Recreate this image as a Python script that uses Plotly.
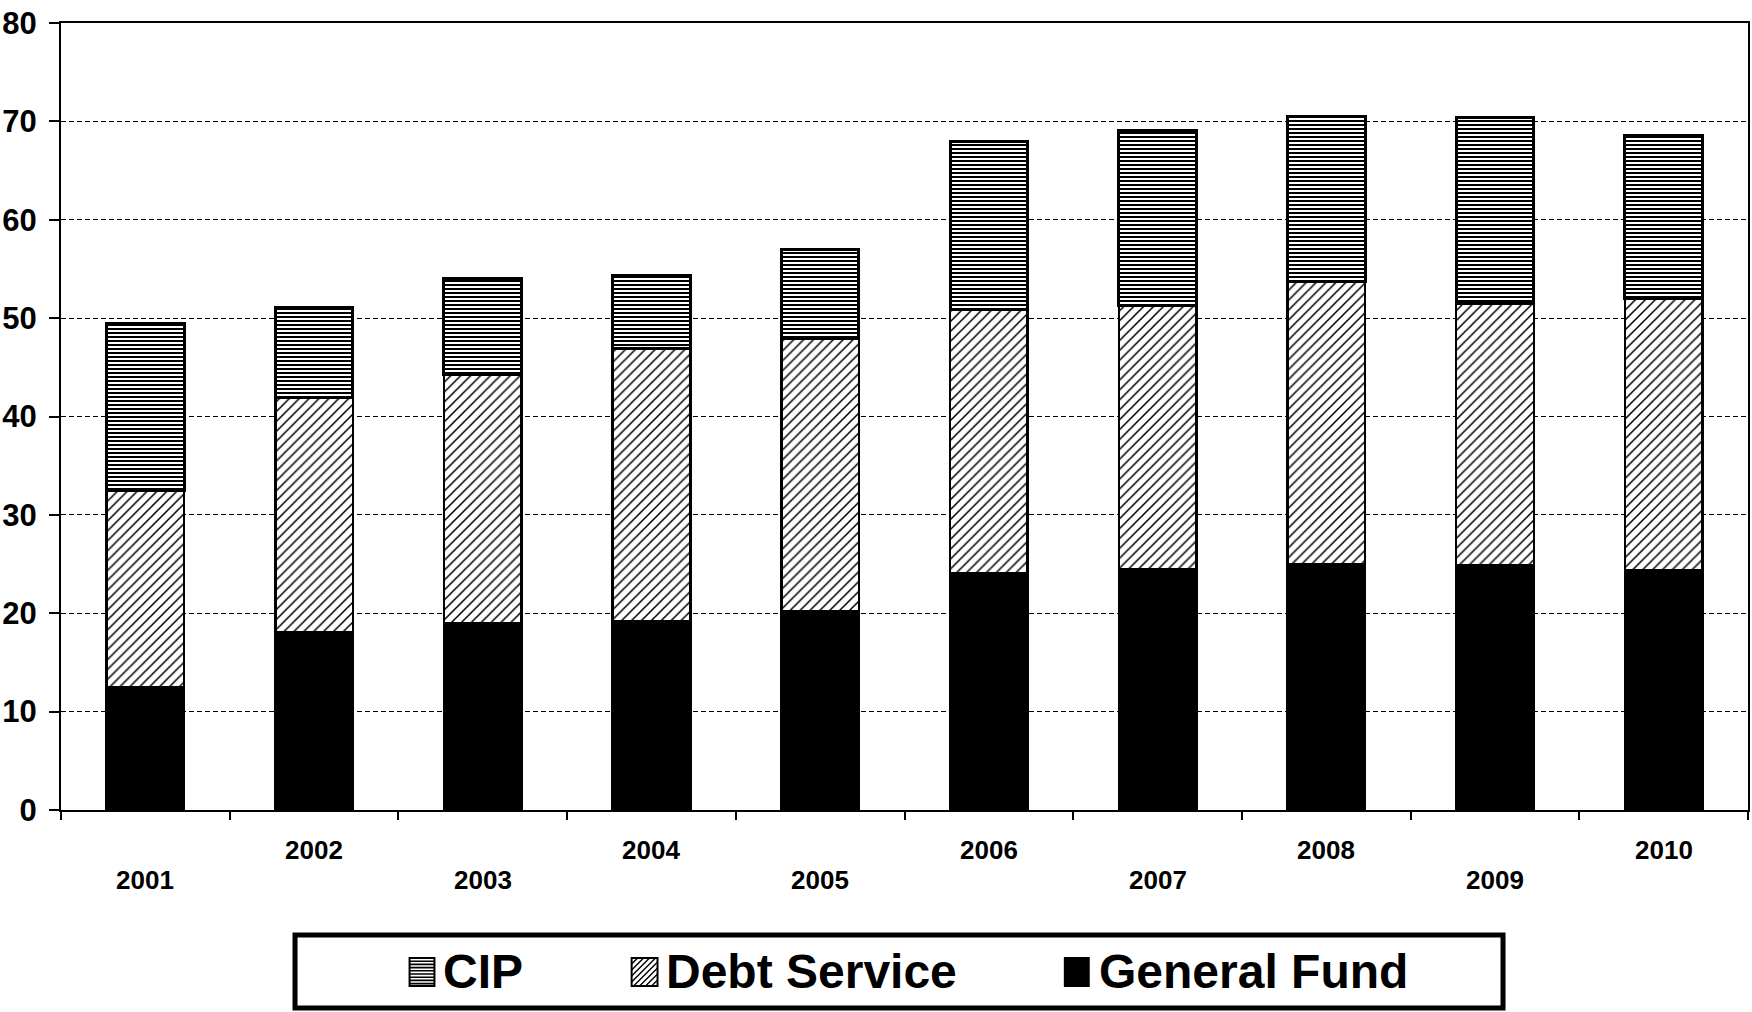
import plotly.graph_objects as go

# Funding by source, fiscal years 2001-2010
years = ["2001", "2002", "2003", "2004", "2005", "2006", "2007", "2008", "2009", "2010"]
general_fund = [12.5, 18.1, 19.0, 19.2, 20.2, 24.1, 24.5, 25.0, 24.9, 24.4]
debt_service = [20.0, 23.8, 25.3, 27.7, 27.7, 26.8, 26.8, 28.7, 26.6, 27.6]
cip = [17.0, 9.2, 9.7, 7.4, 9.1, 17.1, 17.8, 16.8, 18.9, 16.6]
y_ticks = [0, 10, 20, 30, 40, 50, 60, 70, 80]

FONT = "Arial, Liberation Sans, sans-serif"
W, H = 1752, 1012
ML, MR, MT, MB = 56, 2, 23, 202
PW, PH = W - ML - MR, H - MT - MB


def fx(px):
    return (px - ML) / PW


def fy(py):
    return (H - MB - py) / PH


fig = go.Figure()

fig.add_trace(go.Bar(
    x=years, y=general_fund, name="General Fund",
    marker=dict(color="black", line=dict(color="black", width=2.5)),
))
fig.add_trace(go.Bar(
    x=years, y=debt_service, name="Debt Service",
    marker=dict(color="white", line=dict(color="black", width=2.5),
                pattern=dict(shape="/", size=7, solidity=0.22,
                             fgcolor="black", bgcolor="white", fillmode="replace")),
))
fig.add_trace(go.Bar(
    x=years, y=cip, name="CIP",
    marker=dict(color="white", line=dict(color="black", width=3),
                pattern=dict(shape="-", size=4, solidity=0.5,
                             fgcolor="black", bgcolor="white", fillmode="replace")),
))

# Legend drawn by hand: framed box, patterned swatches and large labels
shapes = [dict(type="rect", xref="paper", yref="paper",
               x0=fx(291), x1=fx(1504), y0=fy(1008), y1=fy(935),
               line=dict(color="black", width=5), fillcolor="white", layer="above")]


def rect_path(x0, y0, x1, y1):
    return (f"M{fx(x0)},{fy(y0)} L{fx(x1)},{fy(y0)} L{fx(x1)},{fy(y1)} "
            f"L{fx(x0)},{fy(y1)} Z")


def hlines_path(x0, y0, x1, y1, step):
    parts = []
    y = y0 + step
    while y < y1 - 0.5:
        parts.append(f"M{fx(x0)},{fy(y)} L{fx(x1)},{fy(y)}")
        y += step
    return " ".join(parts)


def diag_path(x0, y0, x1, y1, step):
    parts = []
    c = x0 + y0 + step
    while c < x1 + y1 - 0.5:
        xa = max(x0, c - y1)
        xb = min(x1, c - y0)
        parts.append(f"M{fx(xa)},{fy(c - xa)} L{fx(xb)},{fy(c - xb)}")
        c += step
    return " ".join(parts)


sw_y0, sw_y1 = 958, 986
# CIP swatch
shapes.append(dict(type="path", xref="paper", yref="paper",
                   path=hlines_path(406, sw_y0, 431, sw_y1, 3.2),
                   line=dict(color="black", width=1.6), layer="above"))
shapes.append(dict(type="path", xref="paper", yref="paper",
                   path=rect_path(406, sw_y0, 431, sw_y1),
                   line=dict(color="black", width=2), layer="above"))
# Debt Service swatch
shapes.append(dict(type="path", xref="paper", yref="paper",
                   path=diag_path(629, sw_y0, 655, sw_y1, 6),
                   line=dict(color="black", width=1.4), layer="above"))
shapes.append(dict(type="path", xref="paper", yref="paper",
                   path=rect_path(629, sw_y0, 655, sw_y1),
                   fillcolor="rgba(0,0,0,0)", line=dict(color="black", width=2), layer="above"))
# General Fund swatch
shapes.append(dict(type="path", xref="paper", yref="paper",
                   path=rect_path(1064, sw_y0, 1088, sw_y1),
                   fillcolor="black", line=dict(color="black", width=2), layer="above"))

annotations = []
for label, px in [("CIP", 438), ("Debt Service", 661), ("General Fund", 1096)]:
    annotations.append(dict(
        text=label, xref="paper", yref="paper", x=fx(px), y=fy(971),
        xanchor="left", yanchor="middle", showarrow=False,
        font=dict(family=FONT, size=48, color="black", weight="bold"),
    ))

# Category labels staggered over two rows, placed on the category axis
for i, yr in enumerate(years):
    row_y = 880 if i % 2 == 0 else 850
    annotations.append(dict(
        text=yr, xref="x", yref="paper", x=i, y=fy(row_y),
        xanchor="center", yanchor="middle", showarrow=False,
        font=dict(family=FONT, size=26, color="black", weight="bold"),
    ))

fig.update_layout(
    width=W, height=H,
    margin=dict(l=ML, r=MR, t=MT, b=MB),
    paper_bgcolor="white", plot_bgcolor="white",
    barmode="stack", bargap=0.54,
    showlegend=False,
    shapes=shapes, annotations=annotations,
    font=dict(family=FONT, color="black"),
)

fig.update_xaxes(
    type="category", categoryorder="array", categoryarray=years,
    showticklabels=False,
    tickson="boundaries", ticks="outside", ticklen=8, tickwidth=1.5, tickcolor="black",
    showline=True, linecolor="black", linewidth=2, mirror=True,
    showgrid=False,
)
fig.update_yaxes(
    range=[0, 80], tickmode="array", tickvals=y_ticks,
    ticks="outside", ticklen=10, tickwidth=1.5, tickcolor="black",
    ticklabelstandoff=6,
    tickfont=dict(family=FONT, size=31, color="black", weight="bold"),
    showline=True, linecolor="black", linewidth=2, mirror=True,
    showgrid=True, gridcolor="black", gridwidth=1.2, griddash="5px,3px",
    zeroline=False,
)

fig.write_html("out.html")
